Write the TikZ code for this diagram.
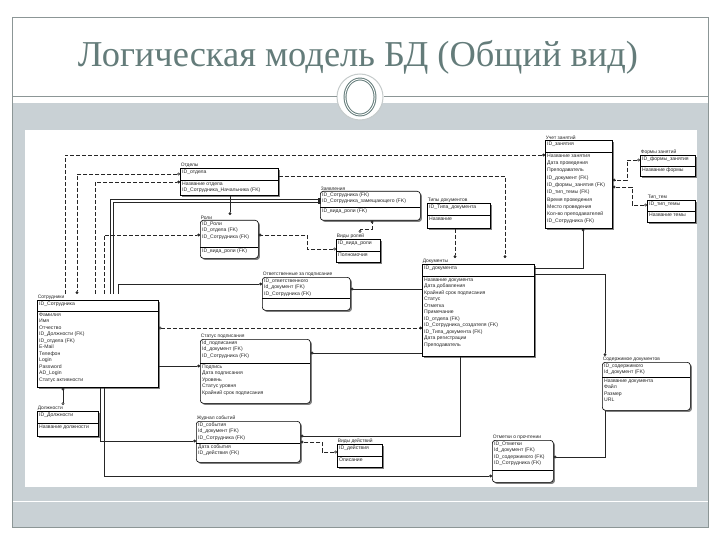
\documentclass[tikz,border=0pt]{standalone}
\usepackage{fontspec}
\usepackage{graphicx}
\setmainfont{Liberation Serif}
\newfontfamily\ersans{Liberation Sans}
\usetikzlibrary{arrows.meta,shadows,calc,shapes.geometric}
\definecolor{bandgray}{RGB}{201,209,213}
\definecolor{framegray}{RGB}{140,150,150}
\definecolor{titlecol}{RGB}{100,124,122}
\tikzset{
  entbox/.style={draw=black, line width=0.6pt, fill=white, inner sep=0pt,
    drop shadow={shadow xshift=1.6pt, shadow yshift=-1.6pt, fill=black!50, opacity=1}},
  depbox/.style={entbox, rounded corners=3pt},
  curbox/.style={entbox},
  atxt/.style={font=\ersans\fontsize{5.1}{6.5}\selectfont, align=left, inner sep=0pt, anchor=north west, text=black!85},
  curatxt/.style={},
  lbltxt/.style={font=\ersans\fontsize{4.9}{5.5}\selectfont, inner sep=0.6pt, anchor=south west, text=black!85},
  rel/.style={draw=black!85, line width=0.5pt},
  nrel/.style={rel, dash pattern=on 4pt off 2pt},
}
\newcommand{\myent}[9]{%
  \node[curbox, minimum width={#4-#2}, minimum height={#5-#3}, anchor=north west] (#1) at (#2,#3) {};
  \node[lbltxt] (#1L) at (#2,#3) {#7};
  \node[atxt,curatxt] (#1P) at (#2+2,#3+1.5) {#8};
  \draw[line width=0.4pt] (#2,#6) -- (#4,#6);
  \node[atxt,curatxt] (#1A) at (#2+2,#6+1.5) {#9};
}
\begin{document}
\begin{tikzpicture}[x=1pt,y=-1pt]
\useasboundingbox (0,0) rectangle (720,540);
\fill[white] (0,0) rectangle (720,540);
% slide frame and bands
\fill[bandgray] (12,103) rectangle (708,527);
\fill[white] (25,130) rectangle (697,487);
\draw[white, line width=1pt] (12,501) -- (708,501);
\draw[framegray, line width=0.6pt] (12,17) rectangle (708,527);
% title
\node[text=titlecol, inner sep=0pt] (title) at (358,57)
  {\resizebox{560pt}{!}{\fontsize{40}{40}\selectfont Логическая модель БД (Общий вид)}};
% ornament
\node[circle, fill=white, draw=framegray!50, line width=1pt, minimum size=46pt, inner sep=0pt] (orn) at (360,97) {};
\node[ellipse, draw=titlecol, double=white, double distance=0.9pt, line width=1pt,
  minimum width=30pt, minimum height=36pt, inner sep=0pt] (ornin) at (orn.center) {};
\draw[framegray, line width=1pt] (12,97) -- (orn.west);
\draw[framegray, line width=1pt] (orn.east) -- (708,97);

% ---------- entities ----------
\tikzset{curbox/.style={entbox}}
\myent{otd}{180}{168}{278}{195}{180}{Отделы}{ID\_отдела}{Название отдела\\ID\_Сотрудника\_Начальника (FK)}
\myent{tipy}{427}{203}{490}{228}{215}{Типы документов}{ID\_Типа\_документа}{Название}
\myent{vidr}{336}{239}{380}{262}{251}{Виды ролей}{ID\_вида\_роли}{Полномочия}
\myent{formy}{640}{155}{695}{176}{166}{Формы занятий}{ID\_формы\_занятия}{Название формы}
\myent{tiptem}{647}{200}{695}{222}{211}{Тип\_тем}{ID\_тип\_темы}{Название темы}
\myent{doc}{422}{264}{534}{356}{276}{Документы}{ID\_документа}{Название документа\\Дата добавления\\Крайний срок подписания\\Статус\\Отметка\\Примечание\\ID\_отдела (FK)\\ID\_Сотрудника\_создателя (FK)\\ID\_Типа\_документа (FK)\\Дата регистрации\\Преподаватель}
\myent{sotr}{37}{300}{158}{387}{311}{Сотрудники}{ID\_Сотрудника}{Фамилия\\Имя\\Отчество\\ID\_Должности (FK)\\ID\_отдела (FK)\\E-Mail\\Телефон\\Login\\Password\\AD\_Login\\Статус активности}
\myent{dolzh}{37}{411}{98}{436}{423}{Должности}{ID\_Должности}{Название должности}
\myent{vidd}{337}{444}{382}{467}{456}{Виды действий}{ID\_действия}{Описание}
\tikzset{curatxt/.style={font=\ersans\fontsize{5.1}{7.3}\selectfont}}
\myent{uchet}{545}{140}{612}{228}{152}{Учет занятий}{ID\_занятия}{Название занятия\\Дата проведения\\Преподаватель\\ID\_документ (FK)\\ID\_формы\_занятия (FK)\\ID\_тип\_темы (FK)\\Время проведения\\Место проведения\\Кол-во преподавателей\\ID\_Сотрудника (FK)}
\tikzset{curatxt/.style={}}
\tikzset{curbox/.style={depbox}}
\myent{zayav}{320}{191}{420}{220}{207}{Заявления}{ID\_Сотрудника (FK)\\ID\_Сотрудника\_замещающего (FK)}{ID\_вида\_роли (FK)}
\myent{roli}{200}{220}{258}{258}{247}{Роли}{ID\_Роли\\ID\_отдела (FK)\\ID\_Сотрудника (FK)}{ID\_вида\_роли (FK)}
\myent{otv}{262}{277}{350}{310}{298}{Ответственные за подписание}{ID\_ответственного\\Id\_документ (FK)\\ID\_Сотрудника (FK)}{}
\myent{status}{200}{339}{310}{403}{363}{Статус подписания}{Id\_подписания\\Id\_документ (FK)\\ID\_Сотрудника (FK)}{Подпись\\Дата подписания\\Уровень\\Статус уровня\\Крайний срок подписания}
\myent{zhurn}{196}{421}{300}{462}{443}{Журнал событий}{ID\_события\\Id\_документ (FK)\\ID\_Сотрудника (FK)}{Дата события\\ID\_действия (FK)}
\myent{sod}{602}{362}{690}{410}{377}{Содержимое документов}{ID\_содержимого\\Id\_документ (FK)}{Название документа\\Файл\\Размер\\URL}
\myent{otm}{492}{440}{553}{482}{470}{Отметки о прочтении}{ID\_Отметки\\Id\_документ (FK)\\ID\_содержимого (FK)\\ID\_Сотрудника (FK)}{}

% ---------- connectors ----------
\tikzset{>={Circle[length=2.8pt]}}
\draw[nrel,->] (sotrL.north -| 65,0) -- (65,155) -- (uchet.west |- 0,155);
\draw[nrel,{Circle[open,length=2.8pt]}->] (otd.west |- 0,174) -- (77,174) -- (sotrL.north -| 77,0);
\draw[nrel,->] (sotrL.north -| 95,0) -- (95,182) -- (otd.west |- 0,182);
\draw[rel,-{Square[length=2.4pt]}] (sotrL.north -| 110,0) -- (110,199) -- (zayav.west |- 0,199);
\draw[rel,-{Square[length=2.4pt]}] (sotrL.north -| 113,0) -- (113,202) -- (zayav.west |- 0,202);
\draw[nrel,->] (sotrL.north -| 104,0) -- (104,235) -- (roli.west |- 0,235);
\draw[rel,->] (sotrL.north -| 118,0) -- (118,284) -- (otv.west |- 0,284);
\draw[nrel,{Circle[open,length=2.8pt]}->] (sotr.east |- 0,328) -- (doc.west |- 0,328);
\draw[rel,->] (sotr.east |- 0,366) -- (status.west |- 0,366);
\draw[rel,{Circle[open,length=2.8pt]}->] (dolzhL.north -| 63,0) -- (sotr.south -| 63,0);
\draw[rel,->] (sotr.south -| 100,0) -- (100,441) -- (zhurn.west |- 0,441);
\draw[rel,->] (sotr.south -| 104,0) -- (104,476) -- (otm.west |- 0,476);
\draw[rel,->] (otd.south -| 230,0) -- (roliL.north -| 230,0);
\draw[nrel,->] (otd.east |- 0,176) -- (505,176) -- (docL.north -| 505,0);
\draw[nrel,{Circle[open,length=2.8pt]}->] (vidr.west |- 0,249) -- (307,249) -- (307,235) -- (roli.east |- 0,235);
\draw[nrel,{Circle[open,length=2.8pt]}->] (vidrL.north -| 360,0) -- (360,229) -- (372,229) -- (zayav.south -| 372,0);
\draw[nrel,->] (tipy.south -| 455,0) -- (docL.north -| 455,0);
\draw[rel,->] (doc.east |- 0,268) -- (583,268) -- (uchet.south -| 583,0);
\draw[rel,->] (doc.east |- 0,274) -- (605,274) -- (sodL.north -| 605,0);
\draw[rel,->] (sod.south -| 605,0) -- (605,457) -- (otm.east |- 0,457);
\draw[rel,->] (doc.south -| 460,0) -- (460,436) -- (zhurn.east |- 0,436);
\draw[nrel,{Circle[open,length=2.8pt]}->] (vidd.west |- 0,452) -- (322,452) -- (322,442) -- (zhurn.east |- 0,442);
\draw[rel,->] (doc.west |- 0,353) -- (status.east |- 0,353);
\draw[rel,->] (doc.west |- 0,289) -- (otv.east |- 0,289);
\draw[nrel,{Circle[open,length=2.8pt]}->] (formy.west |- 0,160) -- (627,160) -- (627,180) -- (uchet.east |- 0,180);
\draw[nrel,{Circle[open,length=2.8pt]}->] (tiptem.west |- 0,205) -- (632,205) -- (632,187) -- (uchet.east |- 0,187);
\end{tikzpicture}
\end{document}
